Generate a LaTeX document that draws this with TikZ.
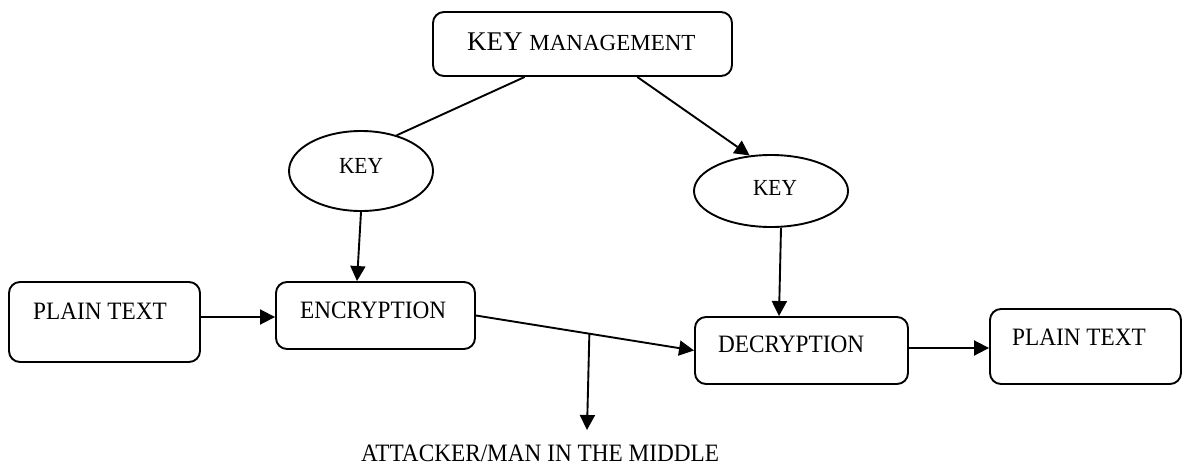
\documentclass[tikz,border=0pt]{standalone}
\usepackage{fontspec}
\setmainfont{Liberation Serif}[FakeStretch=0.93]
\newfontfamily\titleserif{Liberation Serif}
\usetikzlibrary{arrows.meta,shapes.geometric,calc}

\tikzset{
  lbl/.style={font=\fontsize{25}{30}\selectfont, inner sep=0pt},
  keylbl/.style={font=\fontsize{23}{28}\selectfont, inner sep=0pt},
  stagebox/.style={draw, rounded corners=11pt, line width=1.9pt, inner sep=0pt},
  keyshape/.style={draw, ellipse, line width=1.9pt, inner sep=0pt},
  link/.style={line width=1.9pt},
  arr/.style={link, -{Triangle[length=15pt,width=15pt]}}
}

\begin{document}
\begin{tikzpicture}[x=1pt,y=-1pt]
\useasboundingbox (0,0) rectangle (1183,471);

% boxes
\node[stagebox, minimum width=299pt, minimum height=64pt] (km) at (582.5,44) {};
\node[stagebox, minimum width=191pt, minimum height=80pt] (plainL) at (104.5,322) {};
\node[stagebox, minimum width=199pt, minimum height=67pt] (enc) at (375.5,315.5) {};
\node[stagebox, minimum width=213pt, minimum height=67pt] (dec) at (801.5,350.5) {};
\node[stagebox, minimum width=191pt, minimum height=75pt] (plainR) at (1085.5,346.5) {};

% key ellipses
\node[keyshape, minimum width=144pt, minimum height=80pt] (keyL) at (361,171) {};
\node[keyshape, minimum width=154pt, minimum height=72pt] (keyR) at (771,191) {};

% labels
\node[inner sep=0pt, anchor=base west] at (467,50)
  {\titleserif\fontsize{27}{32}\selectfont KEY \fontsize{23}{28}\selectfont MANAGEMENT};
\node[keylbl, anchor=base] at (361,173) {KEY};
\node[keylbl, anchor=base] at (775,195) {KEY};
\node[lbl, anchor=base west] at (33,319) {PLAIN TEXT};
\node[lbl, anchor=base west] at (300,318) {ENCRYPTION};
\node[lbl, anchor=base west] at (718,352) {DECRYPTION};
\node[lbl, anchor=base west] at (1012,345) {PLAIN TEXT};
\node[lbl, anchor=base west] (atk) at (361,461) {ATTACKER/MAN IN THE MIDDLE};

% connectors
\draw[link] ($(km.south west)!0.308!(km.south east)$) -- (keyL.45);
\draw[arr] ($(km.south west)!0.682!(km.south east)$) -- (keyR.121);
\draw[arr] (keyL.south) -- ($(enc.north)+(-18.5,0)$);
\draw[arr] ($(keyR.south)+(10,0)$) -- ($(dec.north)+(-22.5,0)$);
\draw[arr] (plainL.east |- 0,317) -- (enc.west |- 0,317);
\draw[arr] (enc.east) -- (dec.west);
\coordinate (tap) at ($(enc.east)!0.52!(dec.west)$);
\coordinate (eve) at (587,430);
\draw[arr] (tap) -- (eve);
\draw[arr] (dec.east |- 0,348) -- (plainR.west |- 0,348);
\end{tikzpicture}
\end{document}
